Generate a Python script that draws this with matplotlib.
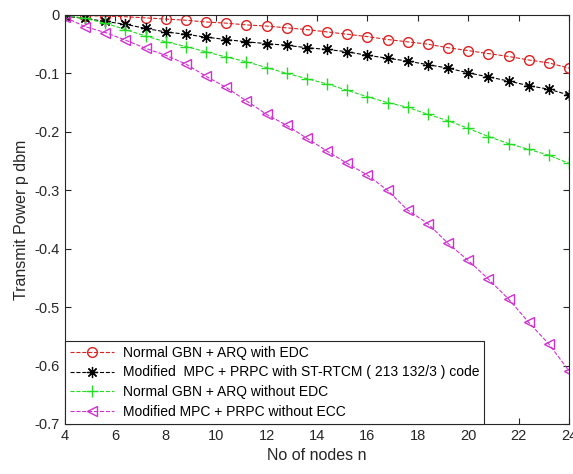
import numpy as np
import matplotlib
matplotlib.use("Agg")
import matplotlib.pyplot as plt

plt.rcParams["font.family"] = ["Liberation Sans", "DejaVu Sans"]

# node counts (26 samples from 4 to 24)
nodes = [4.0, 4.8, 5.6, 6.4, 7.2, 8.0, 8.8, 9.6, 10.4, 11.2, 12.0, 12.8, 13.6,
         14.4, 15.2, 16.0, 16.8, 17.6, 18.4, 19.2, 20.0, 20.8, 21.6, 22.4, 23.2, 24.0]

gbn_edc = [0.0, -0.001, -0.002, -0.003, -0.005, -0.007, -0.009, -0.012, -0.014,
           -0.017, -0.019, -0.022, -0.025, -0.029, -0.033, -0.037, -0.042, -0.046,
           -0.050, -0.056, -0.061, -0.066, -0.071, -0.077, -0.082, -0.091]
mpc_strtcm = [-0.002, -0.006, -0.011, -0.016, -0.023, -0.029, -0.033, -0.038, -0.042,
              -0.046, -0.049, -0.052, -0.056, -0.059, -0.063, -0.069, -0.074, -0.079,
              -0.085, -0.091, -0.099, -0.106, -0.113, -0.121, -0.127, -0.137]
gbn_no_edc = [0.0, -0.006, -0.014, -0.025, -0.036, -0.046, -0.054, -0.063, -0.072,
              -0.080, -0.090, -0.100, -0.109, -0.118, -0.129, -0.140, -0.150, -0.158,
              -0.170, -0.181, -0.194, -0.208, -0.220, -0.230, -0.240, -0.254]
mpc_no_ecc = [-0.004, -0.020, -0.030, -0.043, -0.057, -0.069, -0.084, -0.105, -0.124,
              -0.147, -0.170, -0.189, -0.211, -0.233, -0.254, -0.274, -0.300, -0.334,
              -0.357, -0.391, -0.420, -0.452, -0.486, -0.526, -0.563, -0.609]

labels = [
    "Normal GBN + ARQ with EDC",
    "Modified  MPC + PRPC with ST-RTCM ( 213 132/3 ) code",
    "Normal GBN + ARQ without EDC",
    "Modified MPC + PRPC without ECC",
]

fig = plt.figure(figsize=(5.73, 4.74), dpi=100)
ax = fig.add_axes([0.1134, 0.1055, 0.8796, 0.8629])

# matlab-like asterisk: 4 strokes through the centre
asterisk = (8, 2, 0)

ax.plot(nodes, gbn_edc, "--o", color="#e02020", mfc="none", ms=7, lw=0.8, label=labels[0])
ax.plot(nodes, mpc_strtcm, "--", marker=asterisk, color="black", ms=8, mew=0.9,
        lw=0.8, label=labels[1])
ax.plot(nodes, gbn_no_edc, "--+", color="#22dd22", ms=9, lw=0.8, label=labels[2])
ax.plot(nodes, mpc_no_ecc, "--<", color="#d030d0", mfc="none", ms=7, lw=0.8, label=labels[3])

ax.set_xlim(4, 24)
ax.set_ylim(-0.7, 0)
ax.set_xticks(np.arange(4, 25, 2))
ax.set_yticks(np.arange(-0.7, 0.01, 0.1))
ax.set_yticklabels(["-0.7", "-0.6", "-0.5", "-0.4", "-0.3", "-0.2", "-0.1", "0"])
ax.tick_params(direction="in", top=True, right=True, labelsize=10.5,
               colors="#262626", length=4)
for s in ax.spines.values():
    s.set_color("#262626")
    s.set_linewidth(0.8)

ax.set_xlabel("No of nodes n", fontsize=11.5, color="#262626")
ax.set_ylabel("Transmit Power p dbm", fontsize=11.5, color="#262626")

leg = ax.legend(loc="lower left", borderaxespad=0, fontsize=10,
                fancybox=False, framealpha=1, edgecolor="#262626",
                handlelength=3.2, labelspacing=0.42, borderpad=0.35,
                handletextpad=0.6)
leg.get_frame().set_linewidth(0.8)

fig.savefig("out.png", dpi=100)
